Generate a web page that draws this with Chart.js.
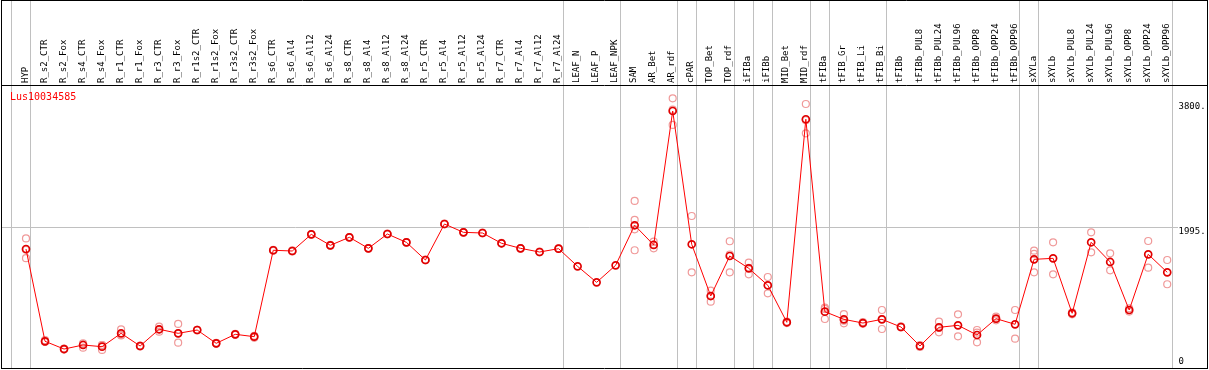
<!DOCTYPE html>
<html>
<head>
<meta charset="utf-8">
<script src="https://cdn.jsdelivr.net/npm/chart.js@4.4.1/dist/chart.umd.min.js"></script>
<style>
  html, body { margin: 0; padding: 0; background: #fff; }
  #wrap { width: 1209px; height: 370px; }
</style>
</head>
<body>
<div id="wrap"><canvas id="c" width="1209" height="370"></canvas></div>
<script>
const geneTitle = 'Lus10034585';

const categories = ['HYP','R_s2_CTR','R_s2_Fox','R_s4_CTR','R_s4_Fox','R_r1_CTR','R_r1_Fox','R_r3_CTR','R_r3_Fox',
  'R_r1s2_CTR','R_r1s2_Fox','R_r3s2_CTR','R_r3s2_Fox','R_s6_CTR','R_s6_Al4','R_s6_Al12','R_s6_Al24',
  'R_s8_CTR','R_s8_Al4','R_s8_Al12','R_s8_Al24','R_r5_CTR','R_r5_Al4','R_r5_Al12','R_r5_Al24',
  'R_r7_CTR','R_r7_Al4','R_r7_Al12','R_r7_Al24','LEAF_N','LEAF_P','LEAF_NPK','SAM','AR_Bet','AR_rdf',
  'cPAR','TOP_Bet','TOP_rdf','iFIBa','iFIBb','MID_Bet','MID_rdf','tFIBa','tFIB_Gr','tFIB_Li','tFIB_Bi',
  'tFIBb','tFIBb_PUL8','tFIBb_PUL24','tFIBb_PUL96','tFIBb_OPP8','tFIBb_OPP24','tFIBb_OPP96',
  'sXYLa','sXYLb','sXYLb_PUL8','sXYLb_PUL24','sXYLb_PUL96','sXYLb_OPP8','sXYLb_OPP24','sXYLb_OPP96'];

const means = [1682,308,193,253,228,427,238,487,427,476,278,412,377,1663,1652,1900,1737,
  1856,1692,1905,1781,1518,2054,1930,1920,1767,1692,1637,1687,1424,1186,1439,2035,1742,3736,
  1752,982,1578,1394,1142,591,3613,749,635,580,635,521,238,516,546,402,645,561,
  1528,1543,725,1782,1489,774,1603,1335];

const rep1 = [1840,325,200,278,253,487,245,526,566,480,285,420,390,1670,1660,1905,1742,
  1860,1697,1910,1786,1523,2059,1935,1925,1772,1697,1642,1692,null,null,null,2397,1791,3925,
  2173,1062,1797,1478,1265,600,3840,808,714,595,774,530,250,600,710,476,675,774,
  1657,1782,740,1930,1618,800,1801,1518];
const rep2 = [1670,300,185,213,179,402,230,451,288,470,270,405,360,1655,1645,1895,1732,
  1852,1687,1900,1776,1513,2049,1925,1915,1762,1687,1632,1682,null,null,null,2114,1692,3528,
  1335,898,1335,1305,1022,580,3404,640,576,570,491,515,225,442,382,293,620,347,
  1608,1305,710,1633,1365,750,1404,1157];
const rep3 = [1545,300,195,265,250,395,240,485,427,478,280,410,380,1663,1650,1900,1737,
  1856,1692,1905,1781,1518,2054,1930,1920,1767,1692,1637,1687,null,null,null,1975,1745,3755,
  null,985,1600,1400,1140,595,3600,790,615,575,640,520,240,506,null,437,640,null,
  1335,null,725,null,null,775,null,null];
const rep4 = [null,null,null,null,null,null,null,null,null,null,null,null,null,null,null,null,null,
  null,null,null,null,null,null,null,null,null,null,null,null,null,null,null,1663,null,null,
  null,null,null,null,null,null,null,null,null,null,null,null,null,null,null,null,null,null,
  null,null,null,null,null,null,null,null];

const separatorsAfter = [-1,0,28,31,34,35,37,38,39,41,42,45,52,53,60];
const yTickValues = [0,1995,3800];
const yTickLabels = ['0','1995.','3800.'];
const gridValue = 1995;

const meanPoints = means.map((v,i)=>({x:i,y:v}));
const repPoints = [];
[rep1,rep2,rep3,rep4].forEach(arr=>arr.forEach((v,i)=>{ if(v!==null) repPoints.push({x:i,y:v}); }));

const MONO = '"DejaVu Sans Mono", "Liberation Mono", monospace';

const framePlugin = {
  id: 'frame',
  beforeDraw(chart) {
    const ctx = chart.ctx, xs = chart.scales.x;
    ctx.save();
    ctx.strokeStyle = '#c0c0c0';
    ctx.lineWidth = 1;
    separatorsAfter.forEach(s=>{
      const px = Math.round(xs.getPixelForValue(s + 0.226)) + 0.5;
      ctx.beginPath(); ctx.moveTo(px, 0); ctx.lineTo(px, chart.chartArea.bottom); ctx.stroke();
    });
    ctx.restore();
  },
  afterDraw(chart) {
    const ctx = chart.ctx;
    ctx.save();
    ctx.strokeStyle = '#000';
    ctx.lineWidth = 1;
    ctx.beginPath();
    ctx.moveTo(1.5, 0); ctx.lineTo(1.5, 369);
    ctx.moveTo(1207.5, 0); ctx.lineTo(1207.5, 369);
    ctx.moveTo(1, 0.5); ctx.lineTo(1208, 0.5);
    ctx.moveTo(1, 368.5); ctx.lineTo(1208, 368.5);
    ctx.moveTo(1, 85.5); ctx.lineTo(1208, 85.5);
    ctx.stroke();
    ctx.fillStyle = '#ff0000';
    ctx.font = '10px ' + MONO;
    ctx.textBaseline = 'alphabetic';
    ctx.textAlign = 'left';
    ctx.fillText(geneTitle, 10, 100);
    ctx.restore();
  }
};

new Chart(document.getElementById('c'), {
  data: {
    datasets: [
      {
        type: 'line',
        label: 'mean',
        data: meanPoints,
        order: 0,
        borderColor: '#ff0000',
        borderWidth: 1,
        tension: 0,
        fill: false,
        pointRadius: 3.5,
        pointBorderWidth: 1.7,
        pointBorderColor: '#e00000',
        pointBackgroundColor: 'rgba(0,0,0,0)'
      },
      {
        type: 'scatter',
        label: 'replicates',
        data: repPoints,
        order: 1,
        showLine: false,
        pointRadius: 3.5,
        pointBorderWidth: 1.2,
        pointBorderColor: '#f09a9a',
        pointBackgroundColor: 'rgba(0,0,0,0)'
      }
    ]
  },
  options: {
    responsive: false,
    animation: false,
    devicePixelRatio: 1,
    layout: { autoPadding: false, padding: { left: 1.5, top: 0, right: 0, bottom: 2 } },
    plugins: { legend: { display: false }, tooltip: { enabled: false }, title: { display: false } },
    scales: {
      x: {
        type: 'linear',
        position: 'top',
        min: -1.288,
        max: 60.54,
        afterBuildTicks: (scale) => { scale.ticks = categories.map((c,i)=>({value:i})); },
        afterFit: (scale) => { scale.height = 85; scale.paddingLeft = 0; scale.paddingRight = 0; },
        grid: { display: false, drawTicks: false },
        border: { display: false },
        ticks: {
          autoSkip: false,
          minRotation: 90,
          maxRotation: 90,
          padding: 2,
          labelOffset: 10,
          color: '#000',
          font: { family: MONO, size: 9 },
          callback: (v) => categories[v] !== undefined ? categories[v] : ''
        }
      },
      y: {
        type: 'linear',
        position: 'right',
        min: -89.3,
        max: 4123,
        afterBuildTicks: (scale) => { scale.ticks = yTickValues.map(v=>({value:v})); },
        afterFit: (scale) => { scale.width = 31.5; scale.paddingTop = 0; scale.paddingBottom = 0; },
        grid: {
          drawTicks: false,
          color: (ctx) => (ctx.tick && ctx.tick.value === gridValue) ? '#c0c0c0' : 'rgba(0,0,0,0)',
          lineWidth: 1
        },
        border: { display: false },
        ticks: {
          padding: 1,
          color: '#000',
          font: (ctx) => (ctx.tick && ctx.tick.value === gridValue)
            ? { family: MONO, size: 9, lineHeight: 0.75 }
            : { family: MONO, size: 9 },
          callback: (v) => {
            const k = yTickValues.indexOf(v);
            if (k < 0) return '';
            return v === gridValue ? ['', yTickLabels[k]] : yTickLabels[k];
          }
        }
      }
    }
  },
  plugins: [framePlugin]
});
</script>
</body>
</html>
